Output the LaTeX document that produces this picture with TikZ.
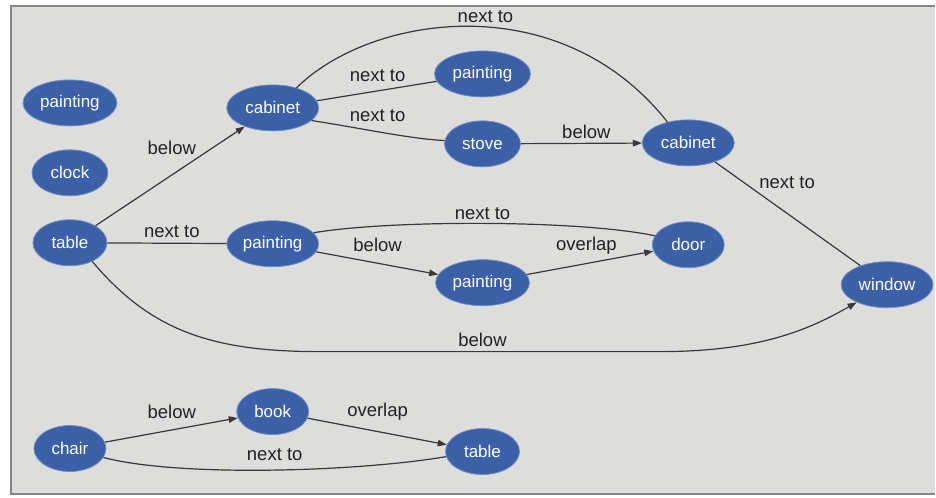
\documentclass[tikz,border=0pt]{standalone}
\usepackage{fontspec}
\setmainfont{Liberation Sans}
\usetikzlibrary{shapes.geometric,arrows.meta}

\definecolor{nodeblue}{HTML}{3C60A7}
\definecolor{rimblue}{HTML}{6F8DC4}
\definecolor{panel}{HTML}{DDDDDB}
\definecolor{edgegray}{HTML}{383838}
\definecolor{framegray}{HTML}{858585}
\definecolor{labelgray}{HTML}{222222}

\begin{document}
\begin{tikzpicture}[x=1pt,y=-1pt,
  obj/.style={ellipse, fill=nodeblue, draw=rimblue, line width=0.8pt, text=white,
    minimum height=46pt, inner sep=0pt, font=\fontsize{17}{19}\selectfont},
  rel/.style={draw=edgegray, line width=1.2pt},
  dirrel/.style={rel, -{Triangle[length=9pt,width=6.5pt]}},
  lbl/.style={text=labelgray, inner sep=1pt, font=\fontsize{18.5}{20}\selectfont}]

% canvas and panel frame
\fill[white] (0,0) rectangle (936,498);
\fill[panel] (11,6) rectangle (936,495);
\draw[framegray, line width=2pt] (936,6) -- (11,6) -- (11,495) -- (936,495);
\useasboundingbox (0,0) rectangle (936,498);

% objects
\node[obj, minimum width=94pt] (p0)    at (70,103)  {painting};
\node[obj, minimum width=76pt] (clock) at (70,173)  {clock};
\node[obj, minimum width=74pt] (tab)   at (70,243)  {table};
\node[obj, minimum width=92pt] (cab1)  at (273,108) {cabinet};
\node[obj, minimum width=92pt] (p1)    at (273,244) {painting};
\node[obj, minimum width=96pt] (p2)    at (483,74)  {painting};
\node[obj, minimum width=76pt] (stove) at (483,144) {stove};
\node[obj, minimum width=92pt] (cab2)  at (689,143) {cabinet};
\node[obj, minimum width=72pt] (door)  at (689,245) {door};
\node[obj, minimum width=94pt] (p3)    at (483,283) {painting};
\node[obj, minimum width=92pt] (win)   at (888,285) {window};
\node[obj, minimum width=72pt] (chair) at (70,449)  {chair};
\node[obj, minimum width=72pt] (book)  at (273,412) {book};
\node[obj, minimum width=74pt] (tab2)  at (483,452) {table};

% relations
\draw[dirrel] (tab) -- (cab1);
\draw[rel] (tab) -- (p1);
\draw[rel] (cab1) -- (p2);
\draw[rel] (cab1.-18) .. controls (360,128) and (410,139) .. (stove.175);
\draw[dirrel] (stove) -- (cab2);
\draw[rel] (cab1.40) .. controls (370,15) and (560,-15) .. (cab2.135);
\draw[rel] (cab2) -- (win);
\draw[rel] (p1.15) .. controls (390,220) and (580,220) .. (door.165);
\draw[dirrel] (p1) -- (p3);
\draw[dirrel] (p3) -- (door);
\draw[dirrel] (tab.-40) .. controls (150,330) and (210,352) .. (320,352)
  -- (660,352) .. controls (760,352) and (810,330) .. (win.-150);
\draw[dirrel] (chair) -- (book);
\draw[dirrel] (book) -- (tab2);
\draw[rel] (chair.-15) .. controls (180,478) and (360,472) .. (tab2.-172);

% relation labels
\node[lbl] (l1)  at (172,148) {below};
\node[lbl] (l2)  at (172,232) {next to};
\node[lbl] (l3)  at (378,76)  {next to};
\node[lbl] (l4)  at (378,116) {next to};
\node[lbl] (l5)  at (587,132) {below};
\node[lbl] (l6)  at (486,17)  {next to};
\node[lbl] (l7)  at (788,183) {next to};
\node[lbl] (l8)  at (483,214) {next to};
\node[lbl] (l9)  at (378,245) {below};
\node[lbl] (l10) at (587,246) {overlap};
\node[lbl] (l11) at (483,340) {below};
\node[lbl] (l12) at (172,412) {below};
\node[lbl] (l13) at (378,412) {overlap};
\node[lbl] (l14) at (275,455) {next to};
\end{tikzpicture}
\end{document}
